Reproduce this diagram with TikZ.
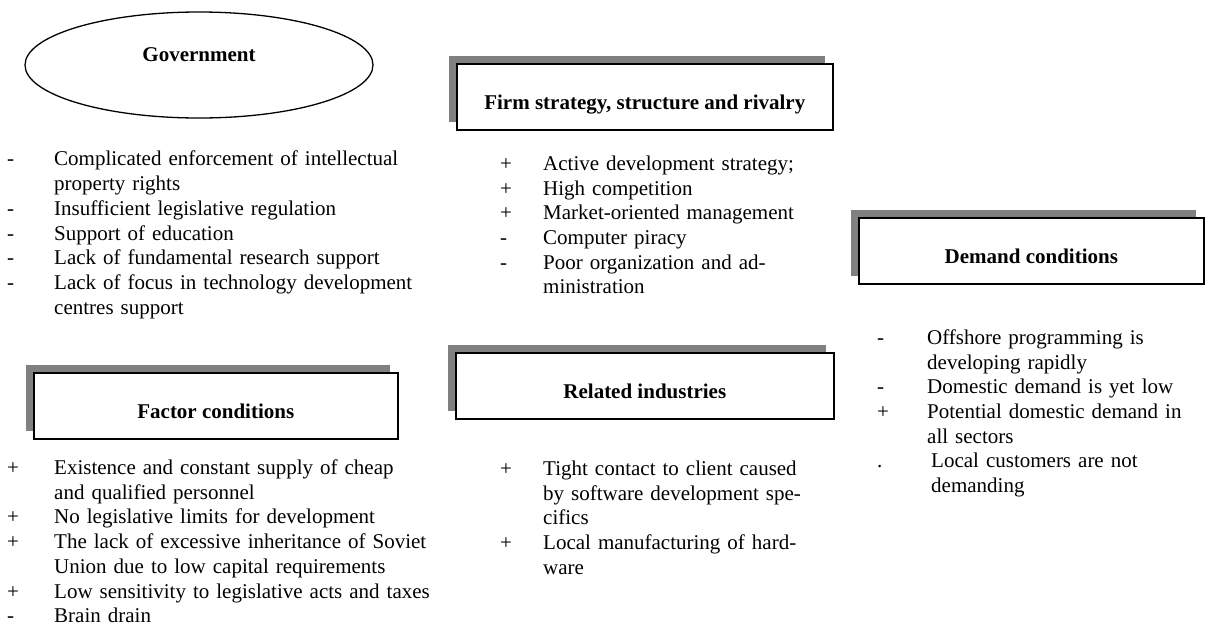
\documentclass[tikz,border=0pt]{standalone}
\usepackage{fontspec}
\setmainfont{Liberation Serif}
\usepackage{xcolor}
\usepackage{tikz}
\usetikzlibrary{shapes.geometric,shadows}

\definecolor{shadowgray}{RGB}{128,128,128}
\newlength\itmind
\newcommand\itm[2]{\noindent\hangindent=\itmind\hangafter=1\makebox[\itmind][l]{\strut#1}#2\par}

\begin{document}
\begin{tikzpicture}[x=1pt, y=-1pt,
                every node/.style={font=\fontsize{21}{24.7}\selectfont, inner sep=0pt},
                factor/.style={draw, rectangle, line width=1.6pt, fill=white, anchor=north west,
                    minimum height=66pt, text height=46pt, text depth=20pt,
                    font=\fontsize{21}{24.7}\selectfont\bfseries,
                    general shadow={fill=shadowgray, shadow xshift=-8pt, shadow yshift=8pt}},
                gov/.style={draw, ellipse, line width=1.3pt, minimum width=348pt, minimum height=106pt,
                    text height=15pt, text depth=23pt, font=\fontsize{21}{24.7}\selectfont\bfseries},
                itemlist/.style={anchor=north west, align=left}
            ]
            \useasboundingbox (0,0) rectangle (1205,625);

            % Determinants
            \node[gov] (government) at (199,65) {Government};
            \node[factor, minimum width=376pt] (firm) at (456,63) {Firm strategy, structure and rivalry};
            \node[factor, minimum width=345pt] (demand) at (858,217) {Demand conditions};
            \node[factor, minimum width=364pt] (factors) at (33,372) {Factor conditions};
            \node[factor, minimum width=378pt] (related) at (455,352) {Related industries};

            % Lists
            \node[itemlist, text width=430pt] (govlist) at (7,148.5) {\setlength\itmind{47pt}%
                \itm{-}{Complicated enforcement of intellectual\newline property rights}
                \itm{-}{Insufficient legislative regulation}
                \itm{-}{Support of education}
                \itm{-}{Lack of fundamental research support}
                \itm{-}{Lack of focus in technology development\newline centres support}};
            \node[itemlist, text width=360pt] (firmlist) at (500,153) {\setlength\itmind{43pt}%
                \itm{+}{Active development strategy;}
                \itm{+}{High competition}
                \itm{+}{Market-oriented management}
                \itm{-}{Computer piracy}
                \itm{-}{Poor organization and ad-\newline ministration}};
            \node[itemlist, text width=325pt] (demandlist) at (877,327) {\setlength\itmind{50pt}%
                \itm{-}{Offshore programming is\newline developing rapidly}
                \itm{-}{Domestic demand is yet low}
                \itm{+}{Potential domestic demand in\newline all sectors}
                \itm{.}{\hspace*{4pt}Local customers are not\newline\hspace*{4pt}demanding}};
            \node[itemlist, text width=440pt] (factorlist) at (7,457) {\setlength\itmind{47pt}%
                \itm{+}{Existence and constant supply of cheap\newline and qualified personnel}
                \itm{+}{No legislative limits for development}
                \itm{+}{The lack of excessive inheritance of Soviet\newline Union due to low capital requirements}
                \itm{+}{Low sensitivity to legislative acts and taxes}
                \itm{-}{\smash{Brain drain}}};
            \node[itemlist, text width=360pt] (relatedlist) at (500,458) {\setlength\itmind{43pt}%
                \itm{+}{Tight contact to client caused\newline by software development spe-\newline cifics}
                \itm{+}{Local manufacturing of hard-\newline ware}};

            \end{tikzpicture}
\end{document}
